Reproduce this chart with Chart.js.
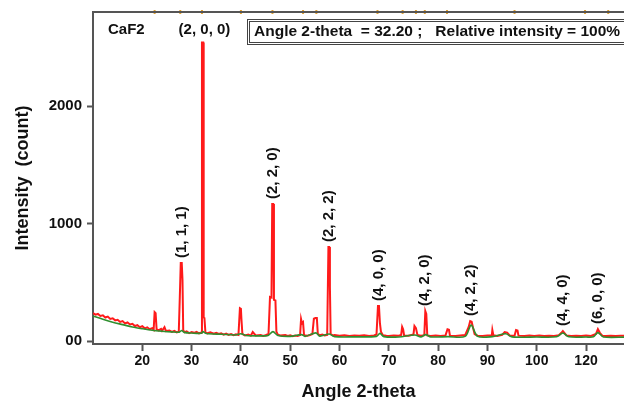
<!DOCTYPE html>
<html>
<head>
<meta charset="utf-8">
<script src="https://cdn.jsdelivr.net/npm/chart.js@4.4.1/dist/chart.umd.min.js"></script>
<style>
  body { margin: 0; background: #fff; }
  #wrap { width: 624px; height: 401px; }
</style>
</head>
<body>
<div id="wrap"><canvas id="chart"></canvas></div>
<script>
"use strict";

// 1: data
// measured pattern (red line)
let angles = [
  10.0, 10.5, 11.0, 11.5, 12.0, 12.5, 13.0, 13.5, 14.0, 14.5, 15.0, 15.5, 16.0, 16.5, 17.0, 17.5,
  18.0, 18.5, 19.0, 19.5, 20.0, 20.5, 21.0, 21.5, 22.0, 22.3, 22.5, 22.7, 22.9, 23.3, 23.8, 24.0,
  24.5, 24.8, 25.5, 26.0, 26.5, 27.0, 27.4, 27.6, 27.8, 28.0, 28.15, 28.3, 28.6, 29.0, 29.5, 30.0,
  30.5, 31.0, 31.5, 31.95, 32.1, 32.35, 32.45, 32.6, 32.8, 33.2, 33.8, 34.5, 35.0, 35.5, 36.0, 36.5,
  37.0, 37.5, 38.0, 38.5, 39.0, 39.5, 39.8, 40.0, 40.1, 40.3, 40.8, 41.5, 42.0, 42.4, 43.0, 44.0,
  44.5, 45.0, 45.6, 45.9, 46.2, 46.35, 46.55, 46.7, 47.0, 47.2, 47.5, 48.0, 49.0, 49.5, 50.0, 50.5,
  51.0, 51.5, 52.0, 52.2, 52.4, 52.6, 52.8, 53.5, 54.0, 54.5, 54.8, 55.1, 55.4, 55.6, 56.0, 56.5,
  57.0, 57.5, 57.75, 57.9, 58.05, 58.2, 58.6, 59.0, 60.0, 61.0, 62.0, 63.0, 64.0, 65.0, 66.0, 67.0,
  67.5, 67.8, 68.0, 68.2, 68.4, 68.8, 69.5, 70.0, 71.0, 72.0, 72.5, 72.7, 72.9, 73.1, 74.0, 75.0,
  75.2, 75.5, 75.8, 76.5, 77.2, 77.4, 77.6, 77.8, 78.5, 79.5, 80.5, 81.5, 81.9, 82.2, 82.4, 83.5,
  84.5, 85.5, 86.2, 86.5, 86.8, 87.1, 87.4, 88.0, 89.0, 90.0, 90.9, 91.0, 91.2, 92.0, 93.0, 93.5,
  94.0, 94.5, 95.5, 95.8, 96.1, 96.3, 97.5, 98.5, 99.5, 100.5, 101.5, 102.5, 103.5, 104.5, 105.0, 105.3,
  105.6, 106.0, 107.0, 108.0, 109.0, 110.0, 111.0, 112.0, 112.4, 112.8, 113.3, 114.0, 115.0, 116.0, 117.0, 118.0
];
let counts = [
  238, 225, 231, 214, 219, 200, 208, 188, 194, 176, 181, 163, 170, 150, 158, 141,
  147, 128, 135, 118, 126, 108, 117, 101, 110, 96, 247, 238, 100, 92, 104, 88,
  118, 85, 90, 78, 86, 74, 80, 365, 664, 664, 520, 90, 75, 82, 68, 76,
  70, 78, 66, 72, 2540, 2540, 200, 196, 74, 66, 74, 62, 70, 60, 66, 55,
  63, 52, 60, 50, 58, 52, 280, 275, 190, 60, 48, 55, 46, 77, 48, 52,
  44, 50, 60, 375, 370, 1166, 1166, 350, 345, 80, 55, 48, 52, 44, 50, 42,
  48, 44, 52, 187, 150, 160, 50, 46, 52, 60, 190, 196, 196, 60, 50, 56,
  48, 52, 800, 800, 460, 60, 48, 52, 46, 50, 44, 48, 46, 50, 44, 48,
  56, 298, 298, 150, 80, 50, 46, 44, 48, 46, 52, 120, 100, 48, 46, 56,
  128, 110, 52, 46, 50, 255, 230, 48, 44, 48, 44, 48, 100, 96, 46, 44,
  48, 52, 120, 170, 165, 110, 60, 46, 44, 48, 50, 94, 50, 44, 52, 77,
  72, 48, 46, 94, 90, 46, 44, 48, 44, 48, 44, 46, 44, 50, 70, 85,
  70, 48, 44, 46, 44, 48, 44, 60, 102, 70, 46, 44, 46, 44, 46, 44
];
// smoothed fit (green line)
let fitAngles = [
  10, 12, 14, 16, 18, 20, 22, 24, 26, 27.5, 28, 28.5, 30, 32, 32.3, 33,
  36, 39, 40, 41, 44, 45.5, 46.5, 47.5, 50, 52.3, 53, 55.2, 56, 57.9, 59, 63,
  67.5, 68.2, 69, 72, 75.3, 76.5, 77.5, 78.5, 82, 85.5, 86.7, 88, 91, 93.7,
  95, 100, 104, 105.3, 106.5, 110, 111.5, 112.4, 113.5, 118
];
let fitCounts = [
  213, 185, 160, 140, 120, 105, 92, 84, 78, 76, 90, 74, 68, 66, 80, 64,
  58, 52, 62, 48, 44, 48, 80, 48, 40, 55, 40, 70, 42, 60, 38, 36,
  40, 65, 38, 35, 52, 36, 55, 35, 38, 40, 136, 40, 38, 62,
  36, 34, 36, 68, 36, 34, 36, 72, 35, 34
];
// indexed peaks
let hklLabels = ["(1, 1, 1)", "(2, 0, 0)", "(2, 2, 0)", "(2, 2, 2)", "(4, 0, 0)", "(4, 2, 0)", "(4, 2, 2)", "(4, 4, 0)", "(6, 0, 0)"];
let hklAngles = [28.0, 32.2, 46.45, 57.85, 67.9, 77.4, 86.6, 105.3, 112.4];
let hklCounts = [664, 2540, 1166, 800, 298, 255, 170, 85, 102];
// small reference marks on the top frame
let refAngles = [22.5, 27.7, 32.1, 40.0, 46.4, 52.6, 55.3, 67.7, 72.8, 75.5, 77.3, 81.8, 95.5, 109.8, 114.5];
// tick labels (as printed in the figure)
let xTickValues = [20, 30, 40, 50, 60, 70, 80, 90, 100, 110];
let xTickLabels = ["20", "30", "40", "50", "60", "70", "80", "90", "100", "120"];
let yTickValues = [0, 1000, 2000];
let yTickLabels = ["00", "1000", "2000"];

const X_MIN = 10, X_MAX = 117.7, Y_MIN = -25, Y_MAX = 2800;
const FONT = "'Liberation Sans', Arial, sans-serif";

// 2: build points for chart.js
function toPoints(xs, ys) {
  let pts = [];
  for (let i = 0; i < xs.length; i++) {
    pts.push({ x: xs[i], y: ys[i] });
  }
  return pts;
}

// 3: texts drawn on top of the plot
const overlay = {
  id: "overlay",
  afterDatasetsDraw(chart) {
    const ctx = chart.ctx;
    const xs = chart.scales.x;
    const ys = chart.scales.y;
    const area = chart.chartArea;
    ctx.save();
    // top frame
    ctx.strokeStyle = "#555";
    ctx.lineWidth = 2;
    ctx.beginPath();
    ctx.moveTo(area.left - 1, area.top);
    ctx.lineTo(area.right + 2, area.top);
    ctx.stroke();

    ctx.fillStyle = "#111";
    ctx.font = "bold 15px " + FONT;
    ctx.textBaseline = "middle";
    ctx.textAlign = "left";
    ctx.fillText("CaF2", 108, 30);

    // peak labels
    for (let i = 0; i < hklLabels.length; i++) {
      const px = xs.getPixelForValue(hklAngles[i]);
      if (hklCounts[i] > Y_MAX * 0.8) {
        ctx.textAlign = "center";
        ctx.fillText(hklLabels[i], px + 2, 30);
        continue;
      }
      const py = ys.getPixelForValue(hklCounts[i]) - 5;
      ctx.save();
      ctx.translate(px, py);
      ctx.rotate(-Math.PI / 2);
      ctx.textAlign = "left";
      ctx.fillText(hklLabels[i], 0, 0);
      ctx.restore();
    }

    // info box
    ctx.strokeStyle = "#444";
    ctx.lineWidth = 1;
    ctx.strokeRect(247.5, 19.5, 420, 25);
    ctx.strokeRect(249.5, 21.5, 420, 21);
    ctx.textAlign = "left";
    ctx.font = "bold 15.5px " + FONT;
    ctx.fillText("Angle 2-theta  = 32.20 ;   Relative intensity = 100%", 254, 32);
    ctx.restore();
  }
};

// 4: create the chart
function appendChart() {
  let chartContainer = document.getElementById("chart");
  new Chart(chartContainer, {
    type: "line",
    data: {
      datasets: [{
        data: toPoints(fitAngles, fitCounts),
        borderColor: "#2f8f2f",
        borderWidth: 1.6,
        pointRadius: 0,
        tension: 0.3
      }, {
        data: toPoints(angles, counts),
        borderColor: "#ff1a1a",
        borderWidth: 2,
        pointRadius: 0,
        tension: 0
      }, {
        type: "scatter",
        data: refAngles.map(a => ({ x: a, y: Y_MAX })),
        pointStyle: "line",
        rotation: 90,
        pointRadius: 2,
        borderColor: "#e0a030",
        borderWidth: 2,
        showLine: false,
        clip: false
      }]
    },
    options: {
      responsive: true,
      maintainAspectRatio: false,
      animation: false,
      layout: { autoPadding: false, padding: { top: 12, left: 0, right: 0, bottom: 0 } },
      plugins: { legend: { display: false }, tooltip: { enabled: false } },
      scales: {
        x: {
          type: "linear",
          min: X_MIN,
          max: X_MAX,
          afterBuildTicks: a => { a.ticks = xTickValues.map(v => ({ value: v })); },
          afterFit: a => { a.height = 57; a.paddingLeft = 0; a.paddingRight = 0; },
          ticks: {
            autoSkip: false,
            maxRotation: 0,
            padding: 2,
            color: "#111",
            font: { family: FONT, size: 14, weight: "bold" },
            callback: (v, i) => xTickLabels[i]
          },
          grid: { drawOnChartArea: false, tickLength: 7, tickColor: "#555", tickWidth: 2 },
          border: { color: "#555", width: 2, dash: [2, 3] },
          title: {
            display: true,
            text: "Angle 2-theta",
            color: "#111",
            font: { family: FONT, size: 18, weight: "bold" },
            padding: { top: 7, bottom: -2 }
          }
        },
        y: {
          min: Y_MIN,
          max: Y_MAX,
          afterBuildTicks: a => { a.ticks = yTickValues.map(v => ({ value: v })); },
          afterFit: a => { a.width = 93; a.paddingTop = 0; a.paddingBottom = 0; },
          ticks: {
            padding: 5,
            color: "#111",
            font: { family: FONT, size: 15, weight: "bold" },
            callback: (v, i) => yTickLabels[i]
          },
          grid: { drawOnChartArea: false, tickLength: 6, tickColor: "#555", tickWidth: 2 },
          border: { color: "#555", width: 2 },
          title: {
            display: true,
            text: "Intensity  (count)",
            color: "#111",
            font: { family: FONT, size: 18, weight: "bold" },
            padding: { top: 12, bottom: 0 }
          }
        }
      }
    },
    plugins: [overlay]
  });
}

appendChart();
</script>
</body>
</html>
